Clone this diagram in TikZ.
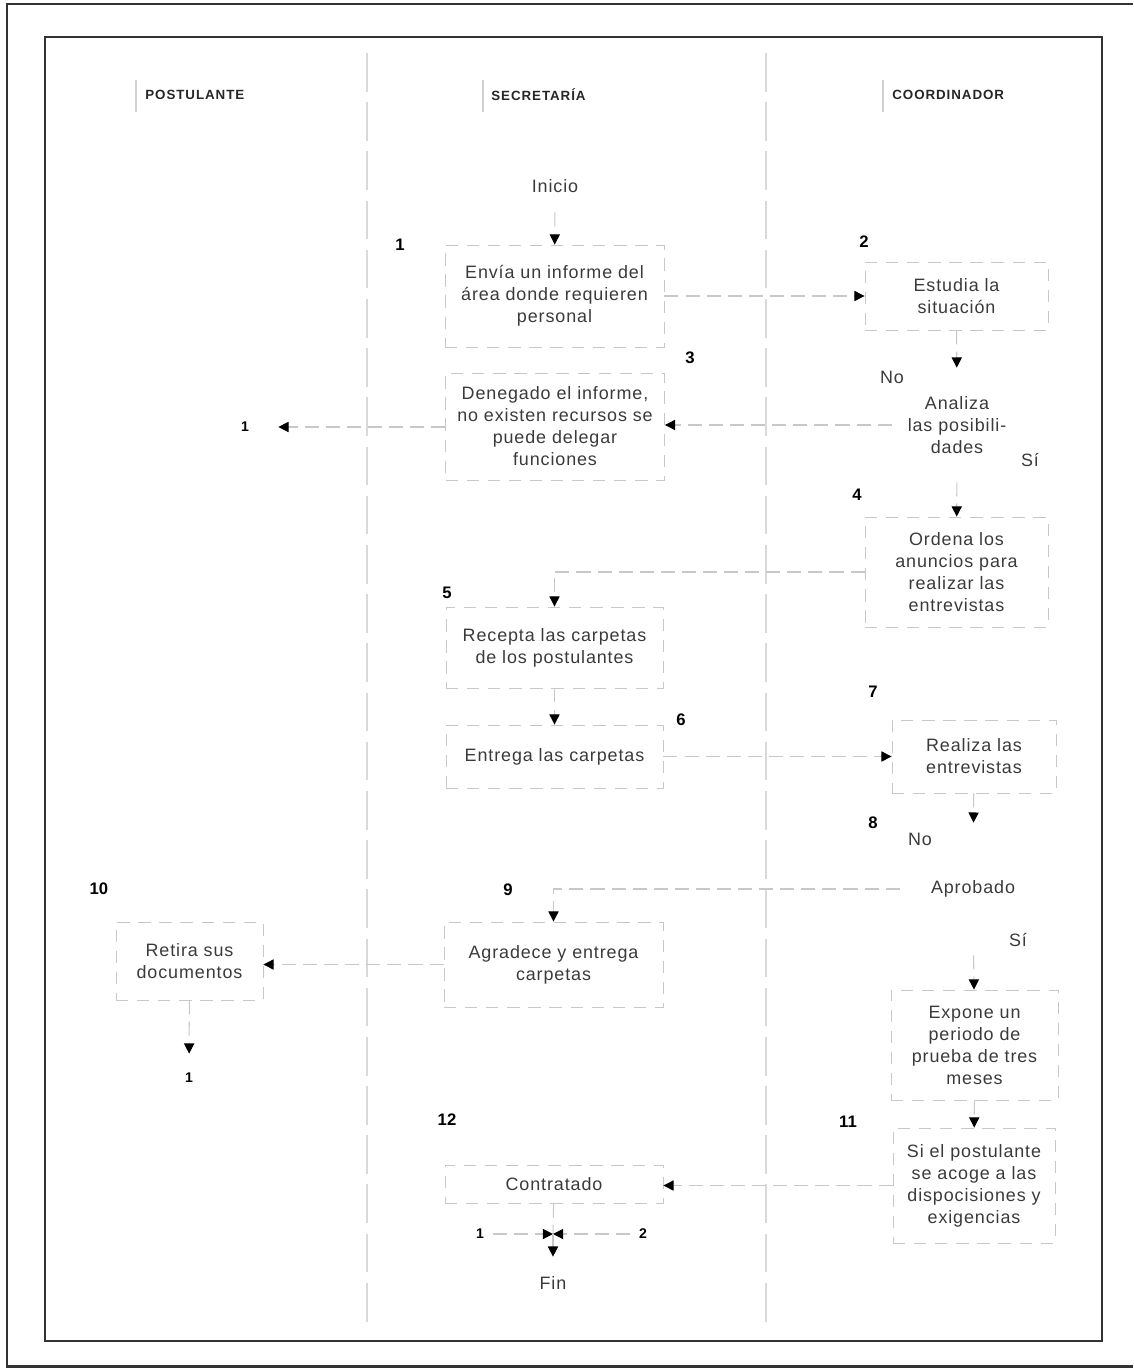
\documentclass[tikz,border=0pt]{standalone}
\usepackage{fontspec}
\setmainfont{Liberation Sans}
\newfontfamily\boxfont{Liberation Sans}[LetterSpace=5]
\newfontfamily\headfont{Liberation Sans}[LetterSpace=7]
\usetikzlibrary{arrows.meta,calc}
\definecolor{txt}{HTML}{3A3A3A}
\definecolor{faint}{HTML}{C8C8C8}
\definecolor{frame}{HTML}{333333}
\tikzset{
  boxtxt/.style={text=txt, font=\boxfont\fontsize{10.2pt}{12.5pt}\selectfont, align=center},
  box/.style={boxtxt, draw=faint, dash pattern=on 7pt off 5pt, line width=0.5pt, inner sep=0pt},
  dec/.style={boxtxt, inner sep=0pt},
  term/.style={boxtxt, inner sep=0pt, minimum height=1.04cm},
  num/.style={font=\bfseries\fontsize{9.5pt}{11pt}\selectfont, text=black},
  conum/.style={font=\bfseries\fontsize{8pt}{10pt}\selectfont, text=black, inner sep=0pt},
  head/.style={font=\headfont\bfseries\fontsize{7.6pt}{9pt}\selectfont, text=black!85, anchor=west, inner sep=0pt},
  conn/.style={draw=faint, line width=0.6pt, dash pattern=on 8pt off 4pt, -{Triangle[length=5.8pt,width=5.8pt,color=black]}},
  link/.style={draw=faint, line width=0.6pt, dash pattern=on 8pt off 4pt},
  lane/.style={draw=black!15, line width=0.6pt, dash pattern=on 22pt off 6pt},
}
\begin{document}
\begin{tikzpicture}[x=0.02cm,y=-0.02cm]
\useasboundingbox (0,0) rectangle (1133,1372);
% frames
\draw[frame, line width=1.7pt] (1133,4) -- (7,4) -- (7,1366) -- (1133,1366);
\draw[frame, line width=1.1pt] (45,37) rectangle (1102,1341);
% lanes
\draw[lane] (367,53) -- (367,1323);
\draw[lane] (766,53) -- (766,1323);
\draw[draw=black!18, line width=0.6pt] (136,80) -- (136,112) (483,80) -- (483,112) (883,80) -- (883,112);
% headers
\node[head] (hp) at (145,95) {POSTULANTE};
\node[head] (hs) at (491,95) {SECRETARÍA};
\node[head] (hc) at (892,95) {COORDINADOR};
% nodes
\node[term] (ini) at (555,186) {Inicio};
\node[box, minimum width=4.38cm, minimum height=2.04cm] (b1) at (554.5,296) {Envía un informe del\\área donde requieren\\personal};
\node[box, minimum width=3.66cm, minimum height=1.36cm] (b2) at (956.5,296) {Estudia la\\situación};
\node[dec, minimum width=2.6cm, minimum height=2.28cm] (dec1) at (957,425) {Analiza\\las posibili-\\dades};
\node[box, minimum width=4.38cm, minimum height=2.14cm] (b3) at (555,426.5) {Denegado el informe,\\no existen recursos se\\puede delegar\\funciones};
\node[box, minimum width=3.66cm, minimum height=2.2cm] (b4) at (956.5,572) {Ordena los\\anuncios para\\realizar las\\entrevistas};
\node[box, minimum width=4.34cm, minimum height=1.62cm] (b5) at (554.5,647.5) {Recepta las carpetas\\de los postulantes};
\node[box, minimum width=4.34cm, minimum height=1.26cm] (b6) at (554.5,756.5) {Entrega las carpetas};
\node[box, minimum width=3.28cm, minimum height=1.46cm] (b7) at (974,756.5) {Realiza las\\entrevistas};
\node[dec, minimum width=2.92cm, minimum height=2.64cm] (dec2) at (973,889) {Aprobado};
\node[box, minimum width=3.34cm, minimum height=2.2cm] (b8) at (974.5,1045) {Expone un\\periodo de\\prueba de tres\\meses};
\node[box, minimum width=4.38cm, minimum height=1.7cm] (b9) at (553.5,964.5) {Agradece y entrega\\carpetas};
\node[box, minimum width=2.94cm, minimum height=1.56cm] (b10) at (189.5,961) {Retira sus\\documentos};
\node[box, minimum width=3.24cm, minimum height=2.3cm] (b11) at (974,1185.5) {Si el postulante\\se acoge a las\\dispocisiones y\\exigencias};
\node[box, minimum width=4.36cm, minimum height=0.76cm] (b12) at (554,1184) {Contratado};
\node[term] (fin) at (553,1283) {Fin};
% off-page connectors
\node[conum, minimum width=1.32cm] (c1) at (245,427) {1};
\node[conum, minimum height=0.96cm] (c2) at (189,1078) {1};
\node[conum, minimum width=0.5cm] (c3) at (480,1234) {1};
\node[conum, minimum width=0.5cm] (c4) at (643,1234) {2};
\coordinate (jn) at (553,1234);
% step numbers
\node[num] (n1) at (400,245) {1};
\node[num] (n2) at (864,242) {2};
\node[num] (n3) at (690,358) {3};
\node[num] (n4) at (857,495) {4};
\node[num] (n5) at (447,593) {5};
\node[num] (n6) at (681,720) {6};
\node[num] (n7) at (873,692) {7};
\node[num] (n8) at (873,823) {8};
\node[num] (n9) at (508,890) {9};
\node[num] (n10) at (99,889) {10};
\node[num] (n11) at (848,1122) {11};
\node[num] (n12) at (447,1120) {12};
% decision labels
\node[boxtxt] (no1) at (892,377) {No};
\node[boxtxt] (si1) at (1030,460) {Sí};
\node[boxtxt] (no2) at (920,839) {No};
\node[boxtxt] (si2) at (1018,940) {Sí};
% connectors
\draw[conn] (ini) -- (b1);
\draw[conn] (b1) -- (b2);
\draw[conn] (b2) -- (dec1);
\draw[conn] (dec1.west) -- (b3.east |- dec1.west);
\draw[conn] (b3.west |- c1) -- (c1);
\draw[conn] (dec1) -- (b4);
\draw[conn] (b4.west) -| (b5.north);
\draw[conn] (b5) -- (b6);
\draw[conn] (b6) -- (b7);
\draw[conn] (b7) -- (dec2);
\draw[conn] (dec2.west) -| (b9.north);
\draw[conn] (dec2) -- (b8);
\draw[conn] (b9.west) -- (b9.west -| b10.east);
\draw[conn] (b10) -- (c2);
\draw[conn] (b8) -- (b11);
\draw[conn] (b11.west) -- (b11.west -| b12.east);
\draw[link] (b12) -- (jn);
\draw[conn] (c3) -- (jn);
\draw[conn] (c4) -- (jn);
\draw[conn] (jn) -- (fin);
\end{tikzpicture}
\end{document}
